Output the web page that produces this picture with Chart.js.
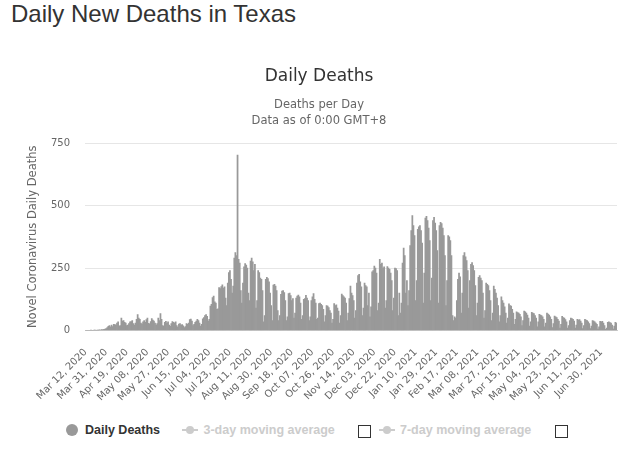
<!DOCTYPE html>
<html>
<head>
<meta charset="utf-8">
<title>Daily New Deaths in Texas</title>
<script src="https://cdn.jsdelivr.net/npm/chart.js@4.4.0/dist/chart.umd.min.js"></script>
<style>
  body { margin: 0; width: 644px; height: 450px; background: #fff; position: relative; overflow: hidden; }
  #heading { position: absolute; left: 11px; top: 2px; margin: 0; font: normal 24px/24px "Liberation Sans", Arial, sans-serif; color: #333; }
  #chart { position: absolute; left: 0; top: 40px; }
  .lg { position: absolute; font: bold 12.5px/16px "Liberation Sans", Arial, sans-serif; white-space: nowrap; top: 421.7px; }
  .dot { position: absolute; left: 66px; top: 423.5px; width: 12px; height: 12px; border-radius: 50%; background: #999; }
  .sym { position: absolute; top: 428.5px; width: 16px; height: 2px; background: #ccc; }
  .sym::after { content: ""; position: absolute; left: 4px; top: -3px; width: 8px; height: 8px; border-radius: 50%; background: #ccc; }
  input.box { position: absolute; top: 425px; margin: 0; width: 13px; height: 13px; -webkit-appearance: none; appearance: none; border: 1px solid #333; background: #fff; box-sizing: border-box; }
</style>
</head>
<body>
<h1 id="heading">Daily New Deaths in Texas</h1>
<canvas id="chart" width="638" height="365"></canvas>

<span class="dot"></span>
<span class="lg" style="left:85px; color:#333;">Daily Deaths</span>
<span class="sym" style="left:182px;"></span>
<span class="lg" style="left:203.5px; color:#ccc;">3-day moving average</span>
<input class="box" type="checkbox" style="left:358px;">
<span class="sym" style="left:379px;"></span>
<span class="lg" style="left:400px; color:#ccc;">7-day moving average</span>
<input class="box" type="checkbox" style="left:555px;">

<script>
// daily deaths, one array per month, first day is Mar 12, 2020
var mar20 = [0,0,0,0,0,1,0,0,1,1,0,1,1,3,2,4,3,5,6,8];
var apr20 = [12,17,20,15,22,16,25,24,22,30,35,18,20,50,38,40,33,30,20,22,28,35,36,40,28,22,30,45,64,50];
var may20 = [45,30,26,35,40,33,44,50,29,27,36,48,42,38,30,22,28,50,40,68,45,20,18,33,37,30,35,22,17,28,36];
var jun20 = [33,30,35,20,14,26,28,22,24,19,12,16,28,25,30,44,46,38,20,25,33,38,45,40,30,18,25,47,52,60];
var jul20 = [64,57,38,45,98,105,132,138,115,110,85,87,172,168,176,183,170,175,130,100,190,232,240,205,150,178,290,312,300,702,285];
var aug20 = [270,160,110,190,255,268,262,250,150,120,278,290,275,240,265,90,120,240,232,210,205,160,35,60,205,213,208,195,150,100,40];
var sep20 = [182,185,178,160,80,40,60,145,158,160,152,120,40,55,148,150,140,120,128,50,70,130,138,142,135,110,45,60,125,128];
var oct20 = [141,130,120,40,55,120,135,148,125,110,45,50,108,110,105,100,85,35,60,100,98,92,80,70,30,45,108,100,103,90,78];
var nov20 = [30,60,146,140,135,130,110,40,70,128,178,150,140,120,50,80,190,220,225,195,175,60,90,190,180,175,100,150,55,95];
var dec20 = [235,240,258,250,230,80,110,285,265,270,250,255,90,120,256,250,245,230,200,80,130,250,248,240,60,150,70,110,270,330,300];
var jan21 = [150,200,100,160,340,400,460,420,380,120,200,405,415,420,400,350,110,230,450,457,440,410,360,120,210,440,453,430,400,320,110];
var feb21 = [420,433,428,410,380,300,100,200,380,375,360,300,60,40,55,50,120,205,230,215,70,150,300,312,295,280,240,90];
var mar21 = [200,265,272,260,240,180,60,110,213,220,210,200,150,50,80,190,185,180,160,120,40,70,178,165,150,130,100,35,60,135,120];
var apr21 = [110,95,70,30,50,107,100,98,85,70,25,45,75,72,70,65,55,20,40,78,75,70,62,50,18,35,73,70,68,60];
var may21 = [50,15,35,65,62,60,55,45,15,30,70,66,62,55,45,12,28,58,55,52,45,38,10,25,57,52,50,44,35,10,20];
var jun21 = [40,50,48,45,38,10,22,45,42,44,38,30,8,20,45,42,40,35,28,8,18,40,38,35,30,25,6,15,37,35];
var jul21 = [37,30,20,5,10,33,35,32,30,22,6,18,33,30];

// labels shown on the x axis
var tickLabels = ['Mar 12, 2020', 'Mar 31, 2020', 'Apr 19, 2020', 'May 08, 2020', 'May 27, 2020',
  'Jun 15, 2020', 'Jul 04, 2020', 'Jul 23, 2020', 'Aug 11, 2020', 'Aug 30, 2020', 'Sep 18, 2020',
  'Oct 07, 2020', 'Oct 26, 2020', 'Nov 14, 2020', 'Dec 03, 2020', 'Dec 22, 2020', 'Jan 10, 2021',
  'Jan 29, 2021', 'Feb 17, 2021', 'Mar 08, 2021', 'Mar 27, 2021', 'Apr 15, 2021', 'May 04, 2021',
  'May 23, 2021', 'Jun 11, 2021', 'Jun 30, 2021'];

var yTicks = [0, 250, 500, 750];

var deaths = [].concat(mar20, apr20, may20, jun20, jul20, aug20, sep20, oct20, nov20, dec20,
  jan21, feb21, mar21, apr21, may21, jun21, jul21);

var monthNames = ['Jan','Feb','Mar','Apr','May','Jun','Jul','Aug','Sep','Oct','Nov','Dec'];
var days = [];
var start = Date.UTC(2020, 2, 12);
for (var i = 0; i < deaths.length; i++) {
  var d = new Date(start + i * 86400000);
  var dd = d.getUTCDate() < 10 ? '0' + d.getUTCDate() : '' + d.getUTCDate();
  days.push(monthNames[d.getUTCMonth()] + ' ' + dd + ', ' + d.getUTCFullYear());
}

var ctx = document.getElementById('chart').getContext('2d');
new Chart(ctx, {
  type: 'bar',
  data: {
    labels: days,
    datasets: [{
      label: 'Daily Deaths',
      data: deaths,
      backgroundColor: '#999999',
      borderWidth: 0,
      barPercentage: 1,
      categoryPercentage: 1
    }]
  },
  options: {
    responsive: false,
    animation: false,
    layout: { padding: 0 },
    plugins: {
      legend: { display: false },
      tooltip: { enabled: false },
      title: {
        display: true,
        text: 'Daily Deaths',
        color: '#333333',
        font: { family: 'DejaVu Sans', size: 17, weight: 'normal' },
        padding: { top: 26, bottom: 9.6 }
      },
      subtitle: {
        display: true,
        text: ['Deaths per Day', 'Data as of 0:00 GMT+8'],
        color: '#666666',
        font: { family: 'DejaVu Sans', size: 11.5, lineHeight: '16px' },
        padding: { top: 1.5, bottom: 13.5 }
      }
    },
    scales: {
      x: {
        grid: { display: false },
        border: { color: '#cccccc' },
        ticks: {
          autoSkip: false,
          maxRotation: 45,
          minRotation: 45,
          padding: 8,
          color: '#666666',
          font: { family: 'DejaVu Sans', size: 10 },
          callback: function(v) {
            var l = this.getLabelForValue(v);
            return tickLabels.indexOf(l) >= 0 ? l : null;
          }
        },
        afterFit: function(s) { s.height = 74.5; }
      },
      y: {
        min: yTicks[0],
        max: yTicks[yTicks.length - 1],
        afterBuildTicks: function(s) { s.ticks = yTicks.map(function(v) { return { value: v }; }); },
        grid: { color: '#e6e6e6', drawTicks: false },
        border: { display: false },
        ticks: { padding: 15, color: '#666666', font: { family: 'DejaVu Sans', size: 10 } },
        title: {
          display: true,
          text: 'Novel Coronavirus Daily Deaths',
          color: '#666666',
          font: { family: 'DejaVu Sans', size: 11.5 },
          padding: { top: 26, bottom: 0 }
        },
        afterFit: function(s) { s.width = 85; }
      },
      // empty right margin so the titles centre on the whole chart
      right: {
        type: 'linear',
        position: 'right',
        grid: { display: false },
        border: { display: false },
        ticks: { display: false },
        afterFit: function(s) { s.width = 21; }
      }
    }
  }
});
</script>
</body>
</html>
